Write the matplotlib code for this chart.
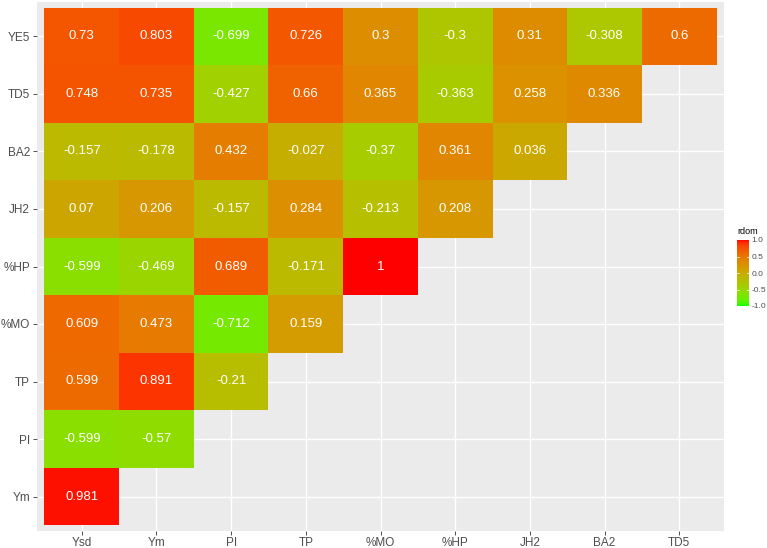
import numpy as np
import matplotlib
matplotlib.use("Agg")
import matplotlib.pyplot as plt
from matplotlib.colors import ListedColormap, Normalize

x_labels = ["Ysd", "Ym", "PI", "TP", "%MO", "%HP", "JH2", "BA2", "TD5"]
y_labels = ["Ym", "PI", "TP", "%MO", "%HP", "JH2", "BA2", "TD5", "YE5"]  # bottom to top

row_Ym = [0.981]
row_PI = [-0.599, -0.57]
row_TP = [0.599, 0.891, -0.21]
row_MO = [0.609, 0.473, -0.712, 0.159]
row_HP = [-0.599, -0.469, 0.689, -0.171, 1]
row_JH2 = [0.07, 0.206, -0.157, 0.284, -0.213, 0.208]
row_BA2 = [-0.157, -0.178, 0.432, -0.027, -0.37, 0.361, 0.036]
row_TD5 = [0.748, 0.735, -0.427, 0.66, 0.365, -0.363, 0.258, 0.336]
row_YE5 = [0.73, 0.803, -0.699, 0.726, 0.3, -0.3, 0.31, -0.308, 0.6]
rows = [row_Ym, row_PI, row_TP, row_MO, row_HP, row_JH2, row_BA2, row_TD5, row_YE5]

# --- Lab-interpolated green->red gradient (like ggplot scale_fill_gradient) ---
_M = np.array([[0.4124, 0.3576, 0.1805], [0.2126, 0.7152, 0.0722], [0.0193, 0.1192, 0.9505]])
_WP = np.array([0.95047, 1.0, 1.08883])

def srgb_to_lab(rgb):
    rgb = np.asarray(rgb, float)
    lin = np.where(rgb <= 0.04045, rgb / 12.92, ((rgb + 0.055) / 1.055) ** 2.4)
    t = (_M @ lin) / _WP
    f = np.where(t > (6 / 29) ** 3, np.cbrt(t), t / (3 * (6 / 29) ** 2) + 4 / 29)
    return np.array([116 * f[1] - 16, 500 * (f[0] - f[1]), 200 * (f[1] - f[2])])

def lab_to_srgb(lab):
    L, a, b = lab
    fy = (L + 16) / 116
    fx = fy + a / 500
    fz = fy - b / 200
    def finv(f):
        return np.where(f > 6 / 29, f ** 3, 3 * (6 / 29) ** 2 * (f - 4 / 29))
    xyz = np.array([finv(fx), finv(fy), finv(fz)]) * _WP
    lin = np.clip(np.linalg.inv(_M) @ xyz, 0, 1)
    rgb = np.where(lin <= 0.0031308, 12.92 * lin, 1.055 * lin ** (1 / 2.4) - 0.055)
    return np.clip(rgb, 0, 1)

lab_lo = srgb_to_lab([0, 1, 0])
lab_hi = srgb_to_lab([1, 0, 0])
cols = [lab_to_srgb(lab_lo + (lab_hi - lab_lo) * t) for t in np.linspace(0, 1, 256)]
cmap = ListedColormap(cols)
norm = Normalize(-1, 1)

n = len(x_labels)
Z = np.full((n, n), np.nan)
for i, r in enumerate(rows):
    for j, v in enumerate(r):
        Z[i, j] = v

W, H = 767, 548
plt.rcParams['font.family'] = ['Liberation Sans', 'DejaVu Sans']
fig = plt.figure(figsize=(W / 100, H / 100), dpi=100)

left, right, bottom, top = 37, 724, 531, 2
ax = fig.add_axes([left / W, (H - bottom) / H, (right - left) / W, (bottom - top) / H])
ax.set_facecolor("#EBEBEB")
ax.set_xlim(-0.6, n - 0.4)
ax.set_ylim(-0.6, n - 0.4)
ax.set_xticks(range(n))
ax.set_yticks(range(n))
ax.grid(True, color="white", linewidth=1.0)
ax.set_axisbelow(True)

xe = np.arange(n + 1) - 0.5
ax.pcolormesh(xe, xe, np.ma.masked_invalid(Z), cmap=cmap, norm=norm, zorder=2)

for i, r in enumerate(rows):
    for j, v in enumerate(r):
        ax.text(j, i, f"{v:g}", ha="center", va="center", color="white", fontsize=9.5, zorder=3)

ax.set_xticklabels(x_labels, fontsize=8.5, color="#4D4D4D")
ax.set_yticklabels(y_labels, fontsize=8.5, color="#4D4D4D")
ax.tick_params(axis="x", length=3, color="#333333", width=0.6, pad=1)
ax.tick_params(axis="y", length=3, color="#333333", width=0.6, pad=2)
for s in ax.spines.values():
    s.set_visible(False)

# colorbar
cax = fig.add_axes([737 / W, (H - 306) / H, 12 / W, 66 / H])
grad = np.linspace(-1, 1, 256).reshape(-1, 1)
cax.imshow(grad, aspect="auto", cmap=cmap, norm=norm, origin="lower", extent=[0, 1, -1, 1])
cax.set_xticks([])
cax.yaxis.tick_right()
cax.set_yticks([-1, -0.5, 0, 0.5, 1])
cax.set_yticklabels(["-1.0", "-0.5", "0.0", "0.5", "1.0"], fontsize=6, color="#4D4D4D")
cax.tick_params(axis="y", length=0, pad=2)
for yv in [-0.5, 0, 0.5]:
    cax.plot([0, 0.2], [yv, yv], color="white", lw=0.5)
    cax.plot([0.8, 1], [yv, yv], color="white", lw=0.5)
cax.set_xlim(0, 1)
cax.set_ylim(-1, 1)
for s in cax.spines.values():
    s.set_visible(False)
fig.text(737 / W, (H - 232) / H, "rdom", fontsize=6.5, color="black", ha="left", va="center")

fig.savefig("out.png", dpi=100)
